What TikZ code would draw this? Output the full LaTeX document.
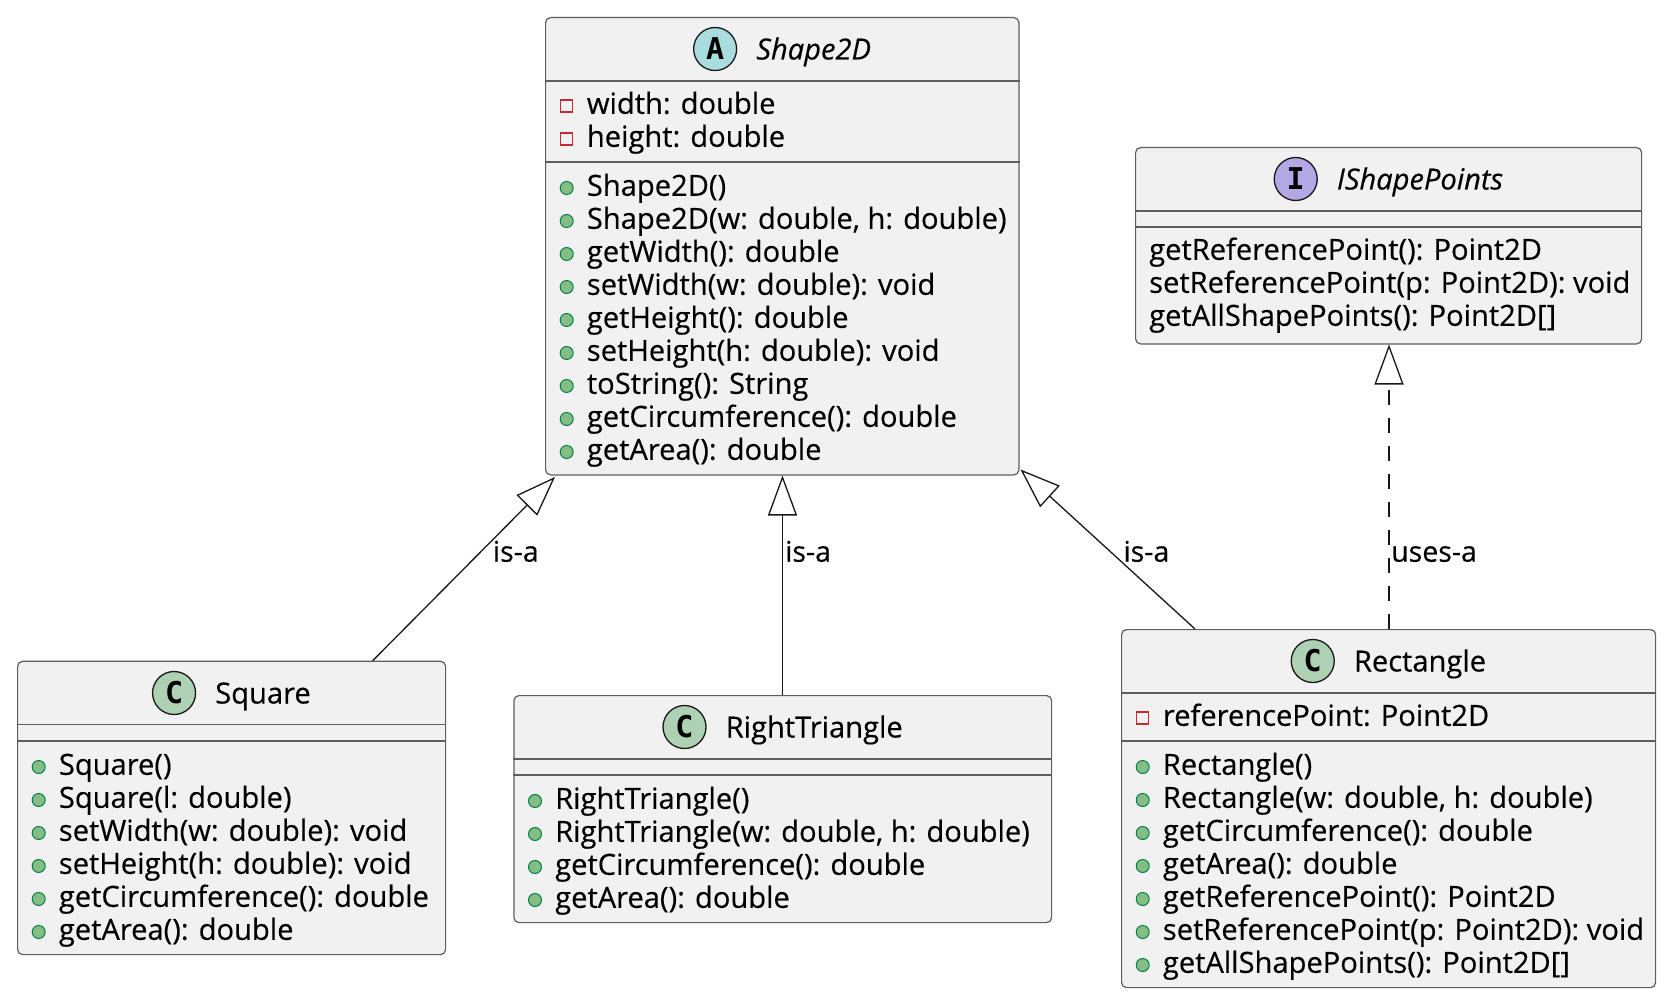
\documentclass[tikz,border=0pt]{standalone}
\usepackage{fontspec}
\setmainfont{Open Sans}
\newfontfamily\memfont{Open Sans}[FakeBold=0.35]
\newfontfamily\circfont{DejaVu Sans Mono}
\usetikzlibrary{arrows.meta,calc}
\definecolor{boxfill}{HTML}{F1F1F1}
\definecolor{boxline}{HTML}{5E5E5E}
\definecolor{edge}{HTML}{181818}
\definecolor{privred}{HTML}{C82930}
\definecolor{pubfill}{HTML}{84BE84}
\definecolor{publine}{HTML}{038048}
\definecolor{absfill}{HTML}{A9DCDF}
\definecolor{clsfill}{HTML}{ADD1B2}
\definecolor{intfill}{HTML}{B4A7E5}
\tikzset{
  classbox/.style={rectangle,draw=boxline,fill=boxfill,line width=1.2pt,rounded corners=5pt,anchor=north west,inner sep=0pt},
  sepline/.style={draw=boxline,line width=1.2pt},
  member/.style={anchor=base west,inner sep=0pt,font=\memfont\fontsize{29.1}{33}\selectfont},
  titletext/.style={anchor=base,inner sep=0pt,font=\memfont\fontsize{29.1}{33}\selectfont},
  hcircle/.style={circle,draw=edge,line width=1.3pt,minimum size=43pt,inner sep=0pt,font=\circfont\bfseries\fontsize{30}{30}\selectfont},
  pubicon/.style={circle,fill=pubfill,draw=publine,line width=1pt,minimum size=13pt,inner sep=0pt},
  privicon/.style={rectangle,draw=privred,line width=1.4pt,minimum size=12pt,inner sep=0pt},
  inherit/.style={draw=edge,line width=1.3pt,-{Triangle[length=40pt,width=29pt,fill=white]}},
  realize/.style={inherit,dash pattern=on 15pt off 13pt},
  edgelabel/.style={anchor=base west,inner sep=0pt,font=\memfont\fontsize{28.5}{33}\selectfont},
}
\newcommand\classhead[6]{%
  \node[titletext] (#1title) at (#2+32,#3+10.5) {#6};
  \node[hcircle,fill=#4] (#1circ) at ($(#1title.base west)+(-41,-10.5)$) {#5};}
\newcommand\pubrow[4]{%
  \node[pubicon] (#1ic) at (#2+21.7,#3) {};
  \node[member] (#1) at (#2+41.7,#3+7.8) {#4};}
\newcommand\privrow[4]{%
  \node[privicon] (#1ic) at (#2+21.7,#3) {};
  \node[member] (#1) at (#2+41.7,#3+7.8) {#4};}
\newcommand\plainrow[4]{\node[member] (#1) at (#2+14,#3+7.8) {#4};}
\newcommand\sepat[2]{\draw[sepline] ($(#1.north west)+(0,#2)$) -- ($(#1.north east)+(0,#2)$);}

\begin{document}
\begin{tikzpicture}[x=1pt,y=-1pt]
\fill[white] (0,0) rectangle (1668,1000);
\useasboundingbox (0,0) rectangle (1668,1000);

% ---------- Shape2D ----------
\node[classbox,minimum width=473.3pt,minimum height=457.3pt] (shape) at (545,17) {};
\sepat{shape}{64}
\sepat{shape}{145}
\classhead{shape}{781.65}{49}{absfill}{A}{\itshape Shape2D}
\privrow{sf1}{545}{106}{width: double}
\privrow{sf2}{545}{139}{height: double}
\pubrow{sm1}{545}{188}{Shape2D()}
\pubrow{sm2}{545}{221}{Shape2D(w: double, h: double)}
\pubrow{sm3}{545}{254}{getWidth(): double}
\pubrow{sm4}{545}{287}{setWidth(w: double): void}
\pubrow{sm5}{545}{320}{getHeight(): double}
\pubrow{sm6}{545}{353}{setHeight(h: double): void}
\pubrow{sm7}{545}{386}{toString(): String}
\pubrow{sm8}{545}{419}{getCircumference(): double}
\pubrow{sm9}{545}{452}{getArea(): double}

% ---------- IShapePoints ----------
\node[classbox,minimum width=506pt,minimum height=196.3pt] (ipts) at (1135,147) {};
\sepat{ipts}{64}
\sepat{ipts}{80}
\classhead{ipts}{1388}{179}{intfill}{I}{\itshape IShapePoints}
\plainrow{im1}{1135}{252}{getReferencePoint(): Point2D}
\plainrow{im2}{1135}{285}{setReferencePoint(p: Point2D): void}
\plainrow{im3}{1135}{318}{getAllShapePoints(): Point2D[]}

% ---------- Square ----------
\node[classbox,minimum width=428pt,minimum height=293.3pt] (square) at (17,660.7) {};
\sepat{square}{64}
\sepat{square}{80.3}
\classhead{square}{231}{693}{clsfill}{C}{Square}
\pubrow{qm1}{17}{767}{Square()}
\pubrow{qm2}{17}{800}{Square(l: double)}
\pubrow{qm3}{17}{833}{setWidth(w: double): void}
\pubrow{qm4}{17}{866}{setHeight(h: double): void}
\pubrow{qm5}{17}{899}{getCircumference(): double}
\pubrow{qm6}{17}{932}{getArea(): double}

% ---------- RightTriangle ----------
\node[classbox,minimum width=537.7pt,minimum height=227pt] (rtri) at (513.3,695) {};
\sepat{rtri}{64}
\sepat{rtri}{80}
\classhead{rtri}{782.2}{727}{clsfill}{C}{RightTriangle}
\pubrow{tm1}{513.3}{801}{RightTriangle()}
\pubrow{tm2}{513.3}{834}{RightTriangle(w: double, h: double)}
\pubrow{tm3}{513.3}{867}{getCircumference(): double}
\pubrow{tm4}{513.3}{900}{getArea(): double}

% ---------- Rectangle ----------
\node[classbox,minimum width=534pt,minimum height=358pt] (rect) at (1121,629) {};
\sepat{rect}{64}
\sepat{rect}{112}
\classhead{rect}{1388}{661}{clsfill}{C}{Rectangle}
\privrow{rf1}{1121}{718}{referencePoint: Point2D}
\pubrow{rm1}{1121}{767}{Rectangle()}
\pubrow{rm2}{1121}{800}{Rectangle(w: double, h: double)}
\pubrow{rm3}{1121}{833}{getCircumference(): double}
\pubrow{rm4}{1121}{866}{getArea(): double}
\pubrow{rm5}{1121}{899}{getReferencePoint(): Point2D}
\pubrow{rm6}{1121}{932}{setReferencePoint(p: Point2D): void}
\pubrow{rm7}{1121}{965}{getAllShapePoints(): Point2D[]}

% ---------- connectors ----------
\coordinate (sqTop) at ($(square.north west)+(355.7,0)$);
\coordinate (sqTip) at ($(shape.south west)+(10,1.5)$);
\draw[inherit] (sqTop) -- (sqTip);

\coordinate (rtTop) at ($(rtri.north west)+(269.2,0)$);
\draw[inherit] (rtTop) -- (rtTop |- shape.south);

\coordinate (reTop) at ($(rect.north west)+(74,0)$);
\coordinate (reTip) at ($(shape.south east)+(1,-6)$);
\draw[inherit] (reTop) -- (reTip);

\coordinate (reTop2) at ($(rect.north west)+(268,0)$);
\draw[realize] (reTop2) -- (reTop2 |- ipts.south);

% ---------- labels ----------
\node[edgelabel] (lab1) at (492.7,561.7) {is-a};
\node[edgelabel] (lab2) at (785,561.7) {is-a};
\node[edgelabel] (lab3) at (1123.3,561.7) {is-a};
\node[edgelabel] (lab4) at (1391,561.7) {uses-a};
\end{tikzpicture}
\end{document}
